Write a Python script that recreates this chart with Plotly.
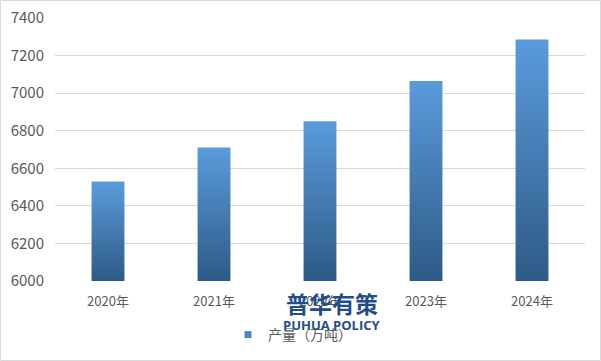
import plotly.graph_objects as go

categories = ["2020年", "2021年", "2022年", "2023年", "2024年"]
values = [6530, 6710, 6850, 7065, 7285]
series_name = "产量（万吨）"
y_ticks = [6000, 6200, 6400, 6600, 6800, 7000, 7200, 7400]

W, H = 601, 361
ML, MR, MT, MB = 55, 16, 18, 80
BAR_W = 0.31
Y0 = 6000

fig = go.Figure()
for i, v in enumerate(values):
    xs = [i - BAR_W / 2, i - BAR_W / 2, i + BAR_W / 2, i + BAR_W / 2, i - BAR_W / 2]
    ys = [Y0, v, v, Y0, Y0]
    fig.add_trace(go.Scatter(
        x=xs, y=ys, mode="lines", fill="toself",
        line=dict(width=0, color="#4279B5"),
        fillgradient=dict(type="vertical", start=Y0, stop=v,
                          colorscale=[[0, "#2D5A86"], [1, "#5A9BDC"]]),
        name=series_name, showlegend=False, hoverinfo="skip",
    ))
# legend entry (square marker)
fig.add_trace(go.Scatter(x=[None], y=[None], mode="markers", name=series_name,
                         marker=dict(symbol="square", size=7, color="#4A86C5"),
                         showlegend=True))

font_main = "Noto Sans CJK SC, Microsoft YaHei, sans-serif"
pw = W - ML - MR
ph = H - MT - MB

def py(pix_y):
    return (H - MB - pix_y) / ph

def px(pix_x):
    return (pix_x - ML) / pw

fig.update_layout(
    width=W, height=H,
    margin=dict(l=ML, r=MR, t=MT, b=MB, autoexpand=False),
    paper_bgcolor="white", plot_bgcolor="white",
    font=dict(family=font_main, size=13, color="#595959"),
    xaxis=dict(range=[-0.5, len(categories) - 0.5], tickvals=list(range(len(categories))),
               ticktext=categories, showgrid=False, zeroline=False, showline=False,
               ticks="", tickfont=dict(size=13, color="#595959"), ticklabelstandoff=11),
    yaxis=dict(range=[6000, 7400], tickvals=y_ticks, showgrid=True, gridcolor="#D9D9D9",
               gridwidth=1, zeroline=False, showline=False, ticks="",
               tickfont=dict(size=15, color="#595959"), ticklabelstandoff=10),
    legend=dict(orientation="h", x=px(228), xanchor="left", y=py(335), yanchor="middle",
                font=dict(size=14, color="#595959"), itemwidth=30,
                bgcolor="rgba(0,0,0,0)"),
    showlegend=True,
)

fig.add_shape(type="rect", xref="paper", yref="paper",
              x0=px(0.5), x1=px(W - 0.5), y0=py(H - 0.5), y1=py(0.5),
              line=dict(color="#D9D9D9", width=1), fillcolor="rgba(0,0,0,0)", layer="below")

fig.add_annotation(text="<b>普华有策</b>", xref="paper", yref="paper",
                   x=px(332), y=py(303), xanchor="center", yanchor="middle", showarrow=False,
                   font=dict(family=font_main, size=23, color="#1F4E8C"))
fig.add_annotation(text="<b>PUHUA POLICY</b>", xref="paper", yref="paper",
                   x=px(332), y=py(325), xanchor="center", yanchor="middle", showarrow=False,
                   font=dict(family="Open Sans, sans-serif", size=13, color="#1F4E8C"))

fig.write_html("out.html", config={"displayModeBar": False},
               post_script="document.body.style.margin='0';")
